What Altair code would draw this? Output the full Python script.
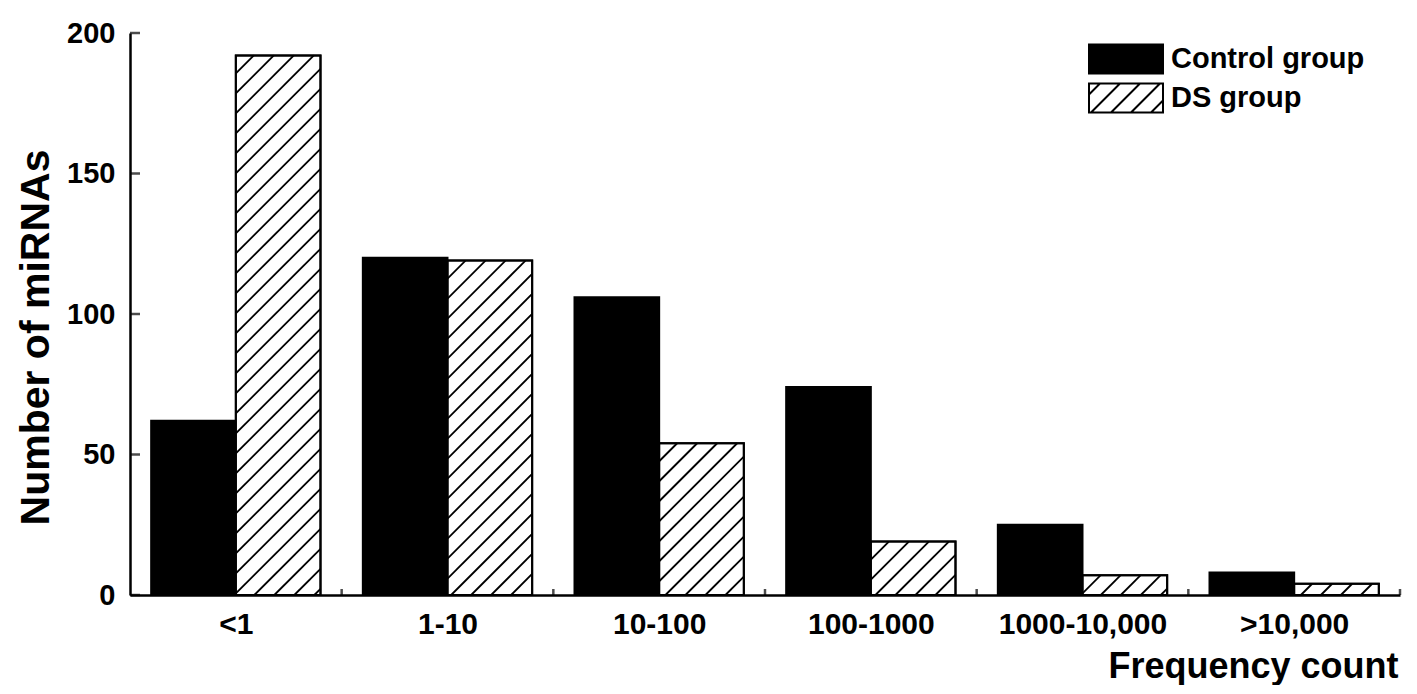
import json
import altair as alt
import pandas as pd

# ---------------- data ----------------
categories = ["<1", "1-10", "10-100", "100-1000", "1000-10,000", ">10,000"]
control_counts = [62, 120, 106, 74, 25, 8]
ds_counts = [192, 119, 54, 19, 7, 4]
groups = ["Control group", "DS group"]
y_tick_values = [0, 50, 100, 150, 200]

# ---------------- layout constants ----------------
W, H = 1270, 562
Y_MAX = 200
BAR = 0.4            # bar width in category units
SX = W / len(categories)   # px per category unit
SY = H / Y_MAX             # px per count unit
SP = 20              # hatch spacing (px, horizontal)
FONT = "Liberation Sans"

# ---------------- tables built from the arrays ----------------
rows = []
for i, cat in enumerate(categories):
    rows.append(dict(cat=cat, group=groups[0], x0=i - BAR, x1=i, value=control_counts[i]))
    rows.append(dict(cat=cat, group=groups[1], x0=i, x1=i + BAR, value=ds_counts[i]))
bars = pd.DataFrame(rows)
ds_bars = bars[bars["group"] == groups[1]]

# 45-degree hatch segments clipped to each DS bar (derived from the values)
hatch = []
for i, v in enumerate(ds_counts):
    wb, hb = BAR * SX, v * SY
    c = hb - 18
    while c > -wb:
        u0 = max(0.0, -c)
        u1 = min(wb, hb - c)
        if u1 - u0 > 0.5:
            hatch.append(dict(hx0=i + u0 / SX, hy0=(u0 + c) / SY,
                              hx1=i + u1 / SX, hy1=(u1 + c) / SY))
        c -= SP
hatch = pd.DataFrame(hatch)

yticks = pd.DataFrame({"t": y_tick_values})
xticks = pd.DataFrame({"b": [i + 0.5 for i in range(len(categories))]})

# ---------------- legend symbol paths ----------------
SYM = 38                 # nominal symbol box (sqrt of symbolSize)
U = SYM / 2              # px per path unit
HW, HH = 37, 14.5        # half width / half height of legend box (px)
def f(v):
    return f"{v / U:.3f}"
rect = f"M{f(-HW)},{f(-HH)}H{f(HW)}V{f(HH)}H{f(-HW)}Z"
lines = ""
for d in [-40.5, -20.5, -0.5, 19.5, 39.5]:
    xa = max(d - HH, -HW)
    xb = min(d + HH, HW)
    if xb > xa:
        lines += f"M{f(xa)},{f(d - xa)}L{f(xb)},{f(d - xb)}"
ds_path = rect + lines
symbol_expr = f"datum.value === 'DS group' ? '{ds_path}' : '{rect}'"

# ---------------- scales / axes ----------------
xscale = alt.Scale(domain=[-0.5, len(categories) - 0.5], nice=False, zero=False)
yscale = alt.Scale(domain=[0, Y_MAX], nice=False)

xaxis = alt.Axis(
    values=list(range(len(categories))),
    labelExpr=f"{json.dumps(categories)}[datum.value]",
    ticks=False, grid=False,
    domainColor="black", domainWidth=2.5,
    labelFont=FONT, labelFontSize=30, labelFontWeight="bold", labelColor="black",
    labelPadding=14, labelFlush=False, labelOverlap=False,
    title="Frequency count", titleFont=FONT, titleFontSize=36, titleFontWeight="bold",
    titleColor="black", titleAlign="right", titleBaseline="alphabetic",
    titleX=W - 2, titleY=82,
)
yaxis = alt.Axis(
    values=y_tick_values,
    ticks=False, grid=False,
    domainColor="black", domainWidth=2.5,
    labelFont=FONT, labelFontSize=29, labelFontWeight="bold", labelColor="black",
    labelPadding=15,
    title="Number of miRNAs", titleFont=FONT, titleFontSize=41, titleFontWeight="bold",
    titleColor="black", titleAngle=270, titleAlign="center", titleBaseline="alphabetic",
    titleX=-82, titleY=304,
)

legend = alt.Legend(
    title=None, orient="none", legendX=976, legendY=6, padding=0,
    symbolType=alt.ExprRef(expr=symbol_expr), symbolSize=SYM * SYM,
    symbolStrokeColor="black", symbolStrokeWidth=2,
    labelFont=FONT, labelFontSize=29, labelFontWeight="bold", labelColor="black",
    labelOffset=25, rowPadding=0, labelLimit=400,
)

def X(field):
    return alt.X(field, scale=xscale, axis=xaxis, title="Frequency count")

def Y(field):
    return alt.Y(field, scale=yscale, axis=yaxis, title="Number of miRNAs")

base_bars = alt.Chart(bars).mark_bar(stroke="black", strokeWidth=2).encode(
    x=X("x0:Q"), x2="x1",
    y=Y("value:Q"), y2=alt.datum(0),
    color=alt.Color("group:N", scale=alt.Scale(domain=groups, range=["black", "white"]),
                    legend=legend),
)

hatch_layer = alt.Chart(hatch).mark_rule(color="black", strokeWidth=1.8).encode(
    x=X("hx0:Q"), x2="hx1",
    y=Y("hy0:Q"), y2="hy1",
)

outline = alt.Chart(ds_bars).mark_bar(fillOpacity=0, stroke="black", strokeWidth=2).encode(
    x=X("x0:Q"), x2="x1",
    y=Y("value:Q"), y2=alt.datum(0),
)

ytick_layer = alt.Chart(yticks).mark_tick(orient="horizontal", color="black",
                                          thickness=2.5, size=10).encode(
    y=Y("t:Q"),
    x=alt.value(5),
)

xtick_layer = alt.Chart(xticks).mark_tick(orient="vertical", color="black",
                                          thickness=2.5, size=6).encode(
    x=X("b:Q"),
    y=alt.value(H - 3),
)

chart = alt.layer(base_bars, hatch_layer, outline, ytick_layer, xtick_layer).properties(
    width=W, height=H,
    padding={"left": 122, "top": 25, "right": 5, "bottom": 90},
    autosize=alt.AutoSizeParams(type="none"),
    background="white",
).configure_view(strokeWidth=0)

chart.save("out.html", embed_options={"renderer": "svg", "actions": False})
